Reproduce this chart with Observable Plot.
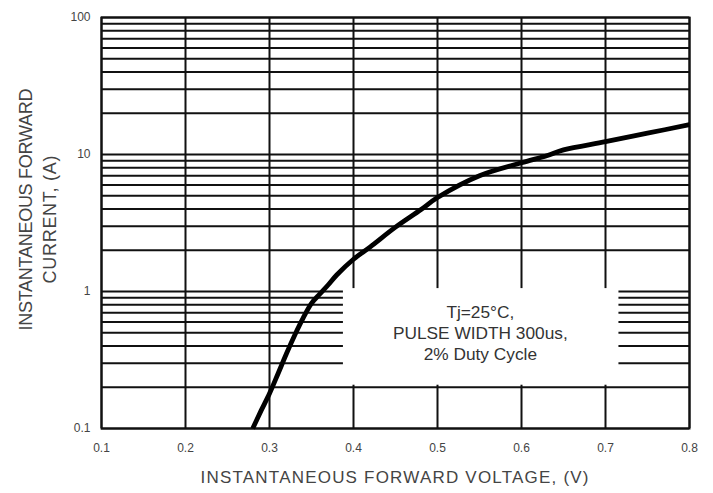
<!DOCTYPE html>
<html>
<head>
<meta charset="utf-8">
<script src="https://cdn.jsdelivr.net/npm/d3@7"></script>
<script src="https://cdn.jsdelivr.net/npm/@observablehq/plot@0.6"></script>
<style>
  html, body { margin: 0; padding: 0; background: white; }
  #chart svg { display: block; }
  #chart g[aria-label$="tick label"], #chart g[aria-label$="tick label"] text { font-size: 12px !important; }
</style>
</head>
<body>
<div id="chart"></div>
<script>
// ---- data ----
const voltage = [0.28, 0.29, 0.30, 0.31, 0.32, 0.33, 0.34, 0.35, 0.36, 0.37, 0.38, 0.40, 0.42, 0.45, 0.48, 0.50, 0.55, 0.60, 0.63, 0.65, 0.70, 0.75, 0.80];
const current = [0.10, 0.135, 0.18, 0.25, 0.35, 0.48, 0.64, 0.82, 0.96, 1.12, 1.32, 1.72, 2.12, 2.95, 3.95, 4.85, 7.0, 8.7, 9.8, 10.8, 12.4, 14.3, 16.5];

const xTicks = [0.1, 0.2, 0.3, 0.4, 0.5, 0.6, 0.7, 0.8];
const xTickLabels = ["0.1", "0.2", "0.3", "0.4", "0.5", "0.6", "0.7", "0.8"];
const yTicks = [0.1, 1, 10, 100];
const yTickLabels = ["0.1", "1", "10", "100"];
const yGrid = [0.1, 0.2, 0.3, 0.4, 0.5, 0.6, 0.7, 0.8, 0.9,
               1, 2, 3, 4, 5, 6, 7, 8, 9,
               10, 20, 30, 40, 50, 60, 70, 80, 90, 100];

const xTitle = "INSTANTANEOUS FORWARD VOLTAGE, (V)";
const yTitleLine1 = "INSTANTANEOUS FORWARD";
const yTitleLine2 = "CURRENT, (A)";
const noteText = "Tj=25°C,\nPULSE WIDTH 300us,\n2% Duty Cycle";
// annotation box extent in data units
const noteBox = [{x1: 0.388, x2: 0.716, y1: 0.207, y2: 1.05}];
const notePos = [{x: 0.551, y: 0.505}];

const curve = voltage.map((v, i) => ({v, i: current[i]}));

const chart = Plot.plot({
  width: 713,
  height: 493,
  marginLeft: 101,
  marginRight: 24,
  marginTop: 17,
  marginBottom: 65,
  style: {fontFamily: "'Liberation Sans', Arial, sans-serif", fontSize: "12px", color: "#444", background: "white", overflow: "visible"},
  x: {domain: [0.1, 0.8]},
  y: {type: "log", domain: [0.1, 100]},
  marks: [
    Plot.ruleY(yGrid, {stroke: "#111", strokeWidth: 2}),
    Plot.ruleX(xTicks, {stroke: "#111", strokeWidth: 2}),
    Plot.rect(noteBox, {x1: "x1", x2: "x2", y1: "y1", y2: "y2", fill: "white"}),
    Plot.frame({stroke: "#111", strokeWidth: 2}),
    Plot.line(curve, {x: "v", y: "i", stroke: "black", strokeWidth: 4.8, curve: "catmull-rom", strokeLinecap: "butt"}),
    Plot.axisX(xTicks, {tickSize: 0, tickPadding: 15, fontSize: 12, tickFormat: d => xTickLabels[xTicks.indexOf(d)] ?? String(d), label: null, fill: "#444"}),
    Plot.axisY(yTicks, {tickSize: 0, tickPadding: 11, fontSize: 12, tickFormat: d => yTickLabels[yTicks.indexOf(d)] ?? String(d), label: null, fill: "#444"}),
    Plot.text(notePos, {x: "x", y: "y", text: () => noteText, fontSize: 17.3, lineHeight: 1.22, textAnchor: "middle", lineAnchor: "middle", fill: "#333"}),
    Plot.text([xTitle], {frameAnchor: "bottom", dx: -1, dy: 49.5, text: d => d, fontSize: 17, textAnchor: "middle", lineAnchor: "middle", fill: "#444"}),
    Plot.text([yTitleLine1], {frameAnchor: "left", dx: -75, dy: -13.5, rotate: -90, text: d => d, fontSize: 18, textAnchor: "middle", lineAnchor: "middle", fill: "#444"}),
    Plot.text([yTitleLine2], {frameAnchor: "left", dx: -51, dy: -3.5, rotate: -90, text: d => d, fontSize: 18, textAnchor: "middle", lineAnchor: "middle", fill: "#444"})
  ]
});

// tick labels at 12px
d3.select(chart).selectAll('g[aria-label$="tick label"]').attr("font-size", 12).style("font-size", "12px");

// stretch the axis titles to the lengths seen in the reference
const titleLengths = new Map([[xTitle, 388], [yTitleLine1, 242], [yTitleLine2, 128]]);
d3.select(chart).selectAll("text").each(function() {
  const t = this.textContent;
  if (titleLengths.has(t)) {
    d3.select(this).attr("textLength", titleLengths.get(t)).attr("lengthAdjust", "spacing");
  }
});

document.getElementById("chart").appendChild(chart);
</script>
</body>
</html>
